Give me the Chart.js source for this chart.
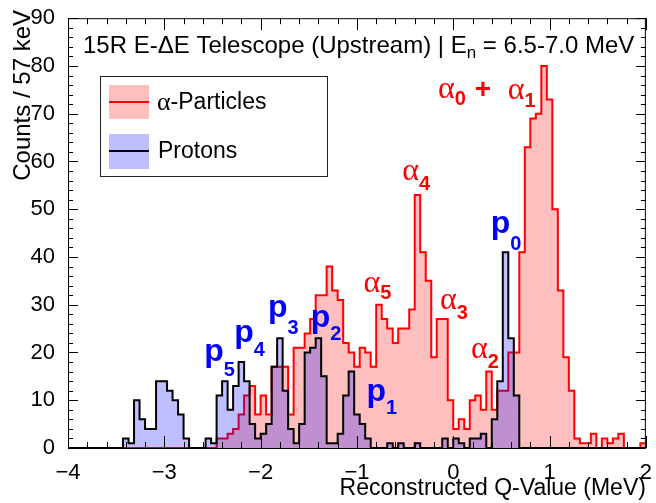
<!DOCTYPE html>
<html>
<head>
<meta charset="utf-8">
<script src="https://cdn.jsdelivr.net/npm/chart.js@4.4.1/dist/chart.umd.min.js"></script>
<style>
  html, body { margin: 0; padding: 0; background: #fff; }
</style>
</head>
<body>
<canvas id="qChart" width="656" height="503"></canvas>
<script>
// histogram range and binning (57 keV bins)
const xMin = -4;
const xMax = 2;
const binWidth = 6 / 105;

// counts per bin
const alphaCounts = [
  0, 0, 0, 0, 0, 0, 0, 0, 0, 0,
  0, 0, 0, 0, 0, 0, 0, 0, 0, 0,
  0, 0, 0, 0, 0, 0, 0, 2, 2, 3,
  4, 7, 11, 13, 7, 11, 7, 17, 17, 17,
  7, 21, 21, 24, 27, 32, 32, 38, 33, 31,
  22, 20, 17, 21, 20, 17, 30, 27, 25, 22,
  25, 25, 29, 53, 41, 35, 19, 27, 27, 10,
  4, 6, 4, 10, 11, 8, 16, 8, 12, 12,
  20, 20, 41, 63, 69, 70, 80, 73, 50, 33,
  19, 12, 2, 1, 1, 3, 0, 2, 1, 2,
  3, 0, 0, 0, 1
];
const protonCounts = [
  0, 0, 0, 0, 0, 0, 0, 0, 0, 0,
  2, 1, 10, 6, 4, 4, 14, 14, 12, 10,
  7, 2, 0, 0, 0, 2, 1, 11, 14, 8,
  13, 18, 14, 5, 2, 3, 5, 17, 23, 12,
  4, 1, 5, 20, 21, 23, 15, 1, 1, 3,
  11, 16, 7, 5, 2, 0, 0, 0, 1, 0,
  1, 0, 0, 1, 0, 0, 0, 0, 2, 0,
  2, 1, 0, 2, 2, 3, 0, 6, 14, 41,
  23, 11, 0, 0, 0, 0, 0, 0, 0, 0,
  0, 0, 0, 0, 0, 0, 0, 0, 0, 0,
  0, 0, 0, 0, 0
];

const xTickLabels = ["\u22124", "\u22123", "\u22122", "\u22121", "0", "1", "2"];
const yTickLabels = ["0", "10", "20", "30", "40", "50", "60", "70", "80", "90"];

const SANS = "'Liberation Sans', Arial, sans-serif";
const SERIF = "'Liberation Serif', 'Times New Roman', serif";

// one point per left bin edge, plus the closing edge, drawn as steps
function toSteps(counts) {
  const pts = counts.map((c, i) => ({ x: xMin + i * binWidth, y: c }));
  pts.push({ x: xMax, y: counts[counts.length - 1] });
  return pts;
}

// peak labels, anchored in data coordinates
const peakLabels = [
  { t: "\u03b1", s: "0", x: -0.158, y: 73.2, c: "#ff0000", greek: true, drop: 7 },
  { t: "+", s: "", x: 0.224, y: 73.2, c: "#ff0000", plus: true, drop: 0 },
  { t: "\u03b1", s: "1", x: 0.565, y: 73.0, c: "#ff0000", greek: true, drop: 8 },
  { t: "\u03b1", s: "4", x: -0.530, y: 56.1, c: "#ff0000", greek: true, drop: 10 },
  { t: "\u03b1", s: "5", x: -0.933, y: 32.7, c: "#ff0000", greek: true, drop: 7 },
  { t: "\u03b1", s: "3", x: -0.138, y: 29.2, c: "#ff0000", greek: true, drop: 10 },
  { t: "\u03b1", s: "2", x: 0.183, y: 18.8, c: "#ff0000", greek: true, drop: 10 },
  { t: "p", s: "0", x: 0.389, y: 45.1, c: "#0000ff", drop: 17 },
  { t: "p", s: "1", x: -0.902, y: 9.9, c: "#0000ff", drop: 13 },
  { t: "p", s: "2", x: -1.480, y: 25.4, c: "#0000ff", drop: 13 },
  { t: "p", s: "3", x: -1.924, y: 27.5, c: "#0000ff", drop: 17 },
  { t: "p", s: "4", x: -2.275, y: 22.3, c: "#0000ff", drop: 14 },
  { t: "p", s: "5", x: -2.585, y: 18.2, c: "#0000ff", drop: 15 }
];

// ROOT-like frame, inward ticks, titles, legend and peak labels
const rootStyle = {
  id: "rootStyle",
  afterDraw(chart) {
    const ctx = chart.ctx;
    const a = chart.chartArea;
    const xs = chart.scales.x, ys = chart.scales.y;
    ctx.save();

    // frame
    ctx.strokeStyle = "#000";
    ctx.lineWidth = 1;
    ctx.strokeRect(a.left + 0.5, a.top + 0.5, a.right - a.left - 1, a.bottom - a.top);

    // x ticks (bottom and top)
    ctx.beginPath();
    for (let k = 0; k <= 30; k++) {
      const v = xMin + k * 0.2;
      const px = Math.round(xs.getPixelForValue(v)) + 0.5;
      const len = k % 5 === 0 ? 12 : 6;
      ctx.moveTo(px, a.bottom); ctx.lineTo(px, a.bottom - len);
      ctx.moveTo(px, a.top); ctx.lineTo(px, a.top + len);
    }
    // y ticks (left and right)
    for (let k = 0; k <= 45; k++) {
      const v = k * 2;
      const py = Math.round(ys.getPixelForValue(v)) + 0.5;
      const len = k % 5 === 0 ? 10 : 5;
      ctx.moveTo(a.left, py); ctx.lineTo(a.left + len, py);
      ctx.moveTo(a.right, py); ctx.lineTo(a.right - len, py);
    }
    ctx.stroke();

    // axis titles
    ctx.fillStyle = "#000";
    ctx.font = "23px " + SANS;
    ctx.textAlign = "right";
    ctx.textBaseline = "alphabetic";
    ctx.fillText("Reconstructed Q-Value (MeV)", a.right, 495);
    ctx.save();
    ctx.translate(30, 10);
    ctx.rotate(-Math.PI / 2);
    ctx.font = "24px " + SANS;
    ctx.textAlign = "right";
    ctx.fillText("Counts / 57 keV", 0, 0);
    ctx.restore();

    // title inside the frame
    ctx.textAlign = "left";
    ctx.font = "24px " + SANS;
    let tx = 83;
    const part1 = "15R E-\u0394E Telescope (Upstream) | E";
    ctx.fillText(part1, tx, 53);
    tx += ctx.measureText(part1).width;
    ctx.font = "17px " + SANS;
    ctx.fillText("n", tx, 58);
    tx += ctx.measureText("n").width;
    ctx.font = "24px " + SANS;
    ctx.fillText(" = 6.5-7.0 MeV", tx, 53);

    // legend
    ctx.fillStyle = "#fff";
    ctx.fillRect(101, 77, 226, 100);
    ctx.strokeStyle = "#222";
    ctx.strokeRect(100.5, 76.5, 227, 100);
    ctx.fillStyle = "rgba(255,0,0,0.25)";
    ctx.fillRect(109, 85, 40, 34);
    ctx.fillStyle = "rgba(0,0,255,0.25)";
    ctx.fillRect(109, 134, 40, 35);
    ctx.lineWidth = 2;
    ctx.strokeStyle = "#ff0000";
    ctx.beginPath(); ctx.moveTo(109, 102); ctx.lineTo(149, 102); ctx.stroke();
    ctx.strokeStyle = "#000";
    ctx.beginPath(); ctx.moveTo(109, 151); ctx.lineTo(149, 151); ctx.stroke();
    ctx.fillStyle = "#000";
    ctx.textBaseline = "middle";
    ctx.font = "26px " + SERIF;
    ctx.fillText("\u03b1", 157, 103);
    const aw = ctx.measureText("\u03b1").width;
    ctx.font = "23px " + SANS;
    ctx.fillText("-Particles", 157 + aw, 103);
    ctx.fillText("Protons", 158, 152);

    // peak labels
    ctx.textBaseline = "alphabetic";
    peakLabels.forEach(l => {
      const px = xs.getPixelForValue(l.x);
      const py = ys.getPixelForValue(l.y);
      ctx.fillStyle = l.c;
      if (l.greek) ctx.font = "32px " + SERIF;
      else if (l.plus) ctx.font = "bold 28px " + SANS;
      else ctx.font = "bold 32px " + SANS;
      ctx.fillText(l.t, px, py);
      const w = ctx.measureText(l.t).width;
      if (l.s) {
        ctx.font = "bold 20px " + SANS;
        ctx.fillText(l.s, px + w, py + l.drop);
      }
    });

    ctx.restore();
  }
};

const qCtx = document.getElementById("qChart").getContext("2d");
new Chart(qCtx, {
  type: "line",
  data: {
    datasets: [
      {
        label: "Protons",
        data: toSteps(protonCounts),
        stepped: "before",
        borderColor: "#000",
        borderWidth: 2,
        backgroundColor: "rgba(0,0,255,0.25)",
        fill: "origin",
        pointRadius: 0,
        order: 0
      },
      {
        label: "\u03b1-Particles",
        data: toSteps(alphaCounts),
        stepped: "before",
        borderColor: "#ff0000",
        borderWidth: 2,
        backgroundColor: "rgba(255,0,0,0.25)",
        fill: "origin",
        pointRadius: 0,
        order: 1
      }
    ]
  },
  options: {
    responsive: false,
    animation: false,
    devicePixelRatio: 1,
    layout: { autoPadding: false, padding: { left: 0, right: 7, top: 13, bottom: 0 } },
    plugins: { legend: { display: false }, tooltip: { enabled: false } },
    scales: {
      x: {
        type: "linear",
        min: xMin,
        max: xMax,
        grid: { display: false },
        border: { display: false },
        ticks: {
          stepSize: 1,
          autoSkip: false,
          maxRotation: 0,
          padding: 4,
          color: "#000",
          font: { family: SANS, size: 22 },
          callback: (v, i) => xTickLabels[i]
        },
        afterFit: s => { s.height = 55; }
      },
      y: {
        min: 0,
        max: 90,
        grid: { display: false },
        border: { display: false },
        ticks: {
          stepSize: 10,
          padding: 5,
          color: "#000",
          font: { family: SANS, size: 22 },
          callback: (v, i) => yTickLabels[i]
        },
        afterFit: s => { s.width = 68; }
      }
    }
  },
  plugins: [rootStyle]
});
</script>
</body>
</html>
